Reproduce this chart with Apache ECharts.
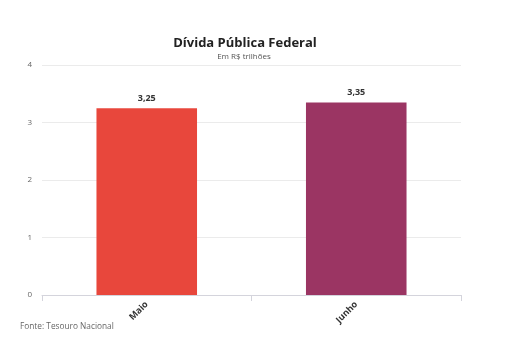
<!doctype html>
<html lang="pt">
<head>
    <meta charset="UTF-8">
    <title>Dívida Pública Federal</title>
    <style>
        * { margin: 0; padding: 0; }
        body { background: #ffffff; }
        #chart { width: 520px; height: 350px; }
    </style>
</head>
<body>
<div id="chart"></div>
<script src="https://cdn.jsdelivr.net/npm/echarts@6/dist/echarts.min.js"></script>
<script>
    const categories = ['Maio', 'Junho'];
    const values = [3.25, 3.35];
    const barColors = ['#e8473c', '#9b3563'];
    const yTicks = [0, 1, 2, 3, 4];

    const fontFamily = '"Open Sans", sans-serif';

    const chart = echarts.init(document.getElementById('chart'), null, {renderer: 'canvas'});

    const option = {
        animation: false,
        backgroundColor: '#ffffff',
        title: [{
            text: 'Dívida Pública Federal',
            left: 245,
            textAlign: 'center',
            top: 37,
            padding: 0,
            textStyle: {fontFamily: fontFamily, fontSize: 13, fontWeight: 'bold', color: '#222'}
        }, {
            text: 'Em R$ trilhões',
            left: 244,
            textAlign: 'center',
            top: 53,
            padding: 0,
            textStyle: {fontFamily: fontFamily, fontSize: 8, fontWeight: 'normal', color: '#555'}
        }, {
            text: 'Fonte: Tesouro Nacional',
            left: 20,
            top: 323,
            padding: 0,
            textStyle: {fontFamily: fontFamily, fontSize: 8.3, fontWeight: 'normal', color: '#666'}
        }],
        grid: {left: 42, right: 59, top: 65, bottom: 55},
        xAxis: {
            type: 'category',
            data: categories,
            axisLine: {lineStyle: {color: '#d4d4dc'}},
            axisTick: {show: true, length: 6, lineStyle: {color: '#d4d4dc'}},
            axisLabel: {
                rotate: 45,
                margin: 8,
                fontFamily: fontFamily,
                fontSize: 9,
                fontWeight: 'bold',
                color: '#333'
            }
        },
        yAxis: {
            type: 'value',
            min: yTicks[0],
            max: yTicks[yTicks.length - 1],
            interval: 1,
            axisLine: {show: false},
            axisTick: {show: false},
            splitLine: {lineStyle: {color: '#ebebeb'}},
            axisLabel: {fontFamily: fontFamily, fontSize: 8, color: '#666', margin: 10}
        },
        series: [{
            type: 'bar',
            barWidth: '48%',
            data: values.map(function (v, i) {
                return {value: v, itemStyle: {color: barColors[i]}};
            }),
            label: {
                show: true,
                position: 'top',
                distance: 5,
                fontFamily: fontFamily,
                fontSize: 9,
                fontWeight: 'bold',
                color: '#333',
                formatter: function (p) {
                    return p.value.toFixed(2).replace('.', ',');
                }
            }
        }]
    };

    chart.setOption(option);
</script>
</body>
</html>
